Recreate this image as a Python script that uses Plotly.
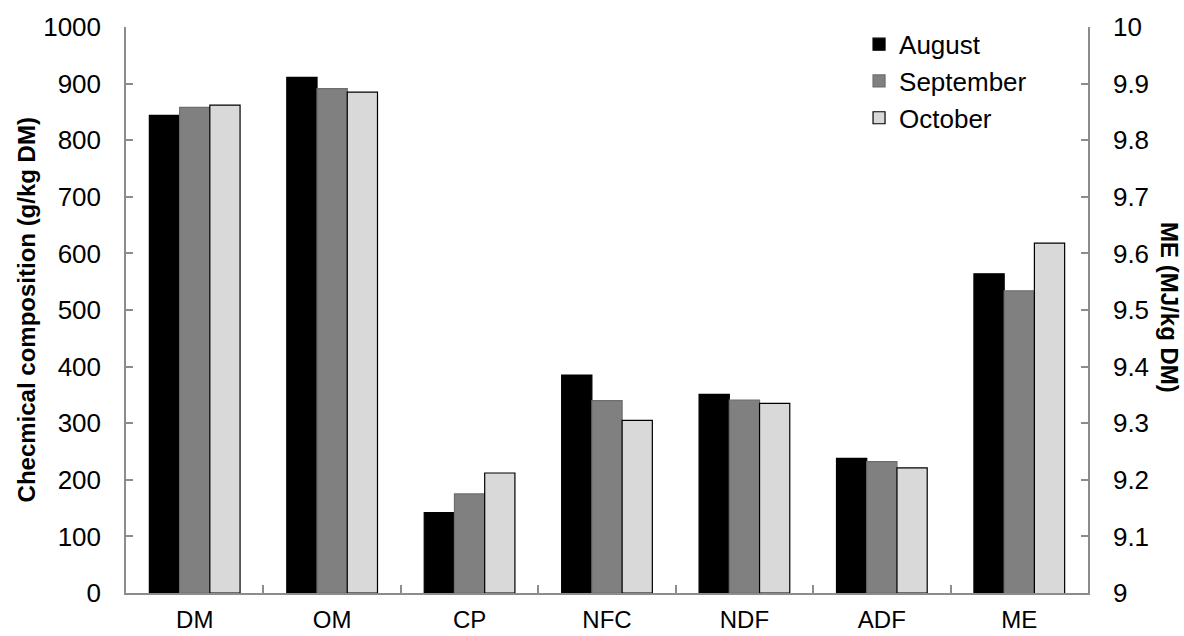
import plotly.graph_objects as go

categories = ["DM", "OM", "CP", "NFC", "NDF", "ADF", "ME"]
left_categories = ["DM", "OM", "CP", "NFC", "NDF", "ADF"]
months = ["August", "September", "October"]

august = [844, 911, 142, 385, 351, 238]
september = [858, 891, 175, 340, 341, 232]
october = [862, 885, 212, 305, 335, 221]

me_august = [9.564]
me_september = [9.534]
me_october = [9.618]

left_ticks = [0, 100, 200, 300, 400, 500, 600, 700, 800, 900, 1000]
right_ticks = [9, 9.1, 9.2, 9.3, 9.4, 9.5, 9.6, 9.7, 9.8, 9.9, 10]
right_ticktext = ["9", "9.1", "9.2", "9.3", "9.4", "9.5", "9.6", "9.7", "9.8", "9.9", "10"]

colors = ["#000000", "#808080", "#d9d9d9"]
lines = ["#000000", "#6e6e6e", "#000000"]
offsets = [-0.33, -0.11, 0.11]
W = 0.22

fig = go.Figure()
left_vals = [august, september, october]
right_vals = [me_august, me_september, me_october]
for i, m in enumerate(months):
    fig.add_trace(go.Bar(
        x=left_categories, y=left_vals[i], name=m,
        marker=dict(color=colors[i], line=dict(color=lines[i], width=1.2)),
        width=W, offset=offsets[i], yaxis="y", showlegend=True,
    ))
for i, m in enumerate(months):
    fig.add_trace(go.Bar(
        x=["ME"], y=right_vals[i], name=m,
        marker=dict(color=colors[i], line=dict(color=lines[i], width=1.2)),
        width=W, offset=offsets[i], yaxis="y2", showlegend=False,
    ))

font_family = "Liberation Sans, Arial, sans-serif"
axis_color = "#8c8c8c"

fig.update_layout(
    width=1184, height=636,
    margin=dict(l=126, r=96, t=27, b=43, autoexpand=False),
    paper_bgcolor="white", plot_bgcolor="white",
    font=dict(family=font_family, size=26, color="black"),
    barmode="overlay",
    showlegend=True,
    legend=dict(
        x=0.762, y=1.011, xanchor="left", yanchor="top",
        font=dict(size=26, family=font_family),
        bgcolor="rgba(0,0,0,0)", tracegroupgap=0, itemwidth=30,
    ),
    xaxis=dict(
        type="category", categoryorder="array", categoryarray=categories,
        range=[-0.5, 6.5], automargin=False,
        showline=True, linecolor=axis_color, linewidth=1.5,
        ticks="inside", tickson="boundaries", ticklen=8, tickcolor=axis_color, tickwidth=1.5,
        showgrid=False, zeroline=False,
        tickfont=dict(size=24), ticklabelstandoff=4,
    ),
    yaxis=dict(
        range=[0, 1000], tickvals=left_ticks, automargin=False,
        showline=True, linecolor=axis_color, linewidth=1.5,
        ticks="inside", ticklen=7, tickcolor=axis_color, tickwidth=1.5,
        showgrid=False, zeroline=False,
        tickfont=dict(size=26), ticklabelstandoff=18,
    ),
    yaxis2=dict(
        range=[9, 10], tickvals=right_ticks, ticktext=right_ticktext, automargin=False,
        overlaying="y", side="right", anchor="x",
        showline=True, linecolor=axis_color, linewidth=1.5,
        ticks="inside", ticklen=7, tickcolor=axis_color, tickwidth=1.5,
        showgrid=False, zeroline=False,
        tickfont=dict(size=26), ticklabelstandoff=18,
    ),
    annotations=[
        dict(text="<b>Checmical composition (g/kg DM)</b>", xref="paper", yref="paper",
             x=-0.1035, y=0.5, xanchor="center", yanchor="middle", textangle=-90,
             showarrow=False, font=dict(size=24, family=font_family)),
        dict(text="<b>ME (MJ/kg DM)</b>", xref="paper", yref="paper",
             x=1.0853, y=0.505, xanchor="center", yanchor="middle", textangle=90,
             showarrow=False, font=dict(size=24, family=font_family)),
    ],
)

fig.write_html(
    "out.html",
    config={"displayModeBar": False},
    post_script="document.body.style.margin='0';document.body.style.overflow='hidden';",
)
